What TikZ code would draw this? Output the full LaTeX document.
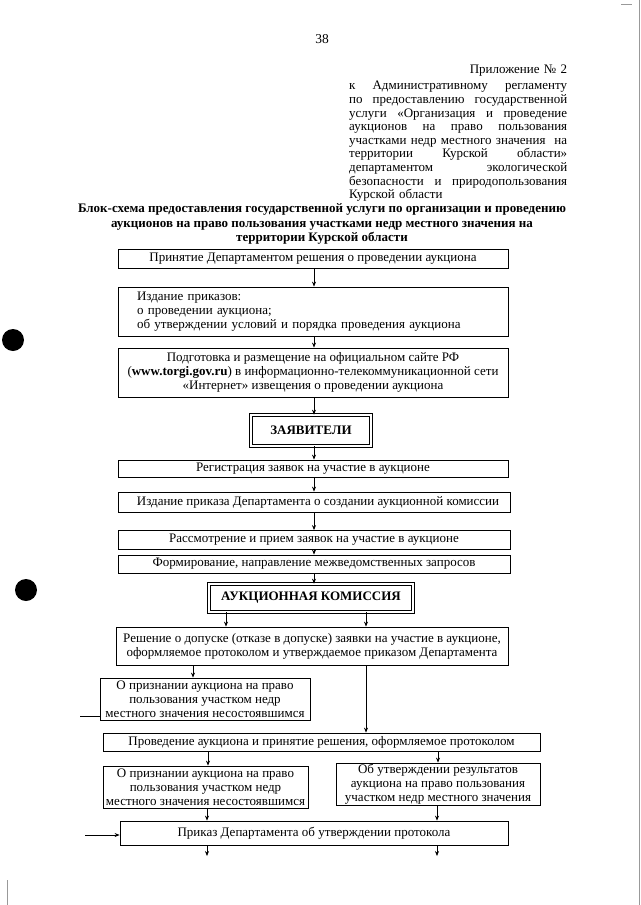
\documentclass[tikz,border=0pt]{standalone}
\usepackage{fontspec}
\setmainfont{Liberation Serif}
\usetikzlibrary{arrows.meta, positioning}
\newcommand{\jl}[1]{\leavevmode\hbox to 218pt{#1}}
\tikzset{
  blk/.style={draw, line width=0.8pt, rectangle, align=center, inner sep=1pt, font=\fontsize{13}{13.8}\selectfont},
  dblk/.style={draw, double, line width=0.7pt, double distance=1.8pt, rectangle, align=center, inner sep=1pt, font=\fontsize{13}{13.8}\selectfont\bfseries},
  arr/.style={draw, line width=0.7pt, -{Stealth[length=5pt, width=4pt]}},
  line/.style={draw, line width=0.7pt},
  scan/.style={draw=black!40, line width=1pt}
}

\begin{document}
\begin{tikzpicture}[x=1pt, y=-1pt]
  \useasboundingbox (0,0) rectangle (640,905);

  % page head
  \node[font=\fontsize{13.5}{15}\selectfont] (pagenum) at (322,39) {38};
  \node[anchor=north west, inner sep=0pt, text width=218pt, align=left,
        font=\fontsize{13}{13.6}\selectfont] (prilozh) at (349,65)
    {\jl{\hfill Приложение № 2}\\[2.5pt]
     \jl{к\hfill Административному\hfill регламенту}\\
     \jl{по\hfill предоставлению\hfill государственной}\\
     \jl{услуги\hfill «Организация\hfill и\hfill проведение}\\
     \jl{аукционов\hfill на\hfill право\hfill пользования}\\
     \jl{участками недр местного значения\hfill на}\\
     \jl{территории\hfill Курской\hfill области»}\\
     \jl{департаментом\hfill экологической}\\
     \jl{безопасности\hfill и\hfill природопользования}\\
     Курской области};
  \node[align=center, font=\fontsize{13}{14.5}\selectfont\bfseries] (title) at (322,224)
    {Блок-схема предоставления государственной услуги по организации и проведению\\
     аукционов на право пользования участками недр местного значения на\\
     территории Курской области};

  % blocks
  \node[blk, minimum width=390pt, minimum height=19pt] (b1) at (313,258.5)
    {Принятие Департаментом решения о проведении аукциона};
  \node[blk, minimum width=390pt, minimum height=49pt, text width=352pt, inner xsep=19pt, align=left] (b2) at (313,311.5)
    {Издание приказов:\\ о проведении аукциона;\\ об утверждении условий и порядка проведения аукциона};
  \node[blk, minimum width=390pt, minimum height=49pt] (b3) at (313,372.5)
    {Подготовка и размещение на официальном сайте РФ\\
     (\textbf{www.torgi.gov.ru}) в информационно-телекоммуникационной сети\\
     «Интернет» извещения о проведении аукциона};
  \node[dblk, minimum width=120pt, minimum height=31pt] (zayav) at (311,430.5) {ЗАЯВИТЕЛИ};
  \node[blk, minimum width=390pt, minimum height=17pt] (b4) at (313,468.5)
    {Регистрация заявок на участие в аукционе};
  \node[blk, minimum width=392pt, minimum height=20pt] (b5) at (314,502)
    {\hspace*{8pt}Издание приказа Департамента о создании аукционной комиссии};
  \node[blk, minimum width=392pt, minimum height=19pt] (b6) at (314,540)
    {Рассмотрение и прием заявок на участие в аукционе};
  \node[blk, minimum width=392pt, minimum height=18pt] (b7) at (314,564)
    {Формирование, направление межведомственных запросов};
  \node[dblk, minimum width=204pt, minimum height=28pt] (komis) at (311,598) {АУКЦИОННАЯ КОМИССИЯ};
  \node[blk, minimum width=392pt, minimum height=38pt] (b8) at (312,646)
    {Решение о допуске (отказе в допуске) заявки на участие в аукционе,\\
     оформляемое протоколом и утверждаемое приказом Департамента};
  \node[blk, minimum width=210pt, minimum height=42pt] (b9) at (205,699)
    {О признании аукциона на право\\ пользования участком недр\\ местного значения несостоявшимся};
  \node[blk, minimum width=437pt, minimum height=18pt] (b10) at (321.5,742)
    {Проведение аукциона и принятие решения, оформляемое протоколом};
  \node[blk, minimum width=205pt, minimum height=42pt] (b11a) at (205.5,787)
    {О признании аукциона на право\\ пользования участком недр\\ местного значения несостоявшимся};
  \node[blk, minimum width=204pt, minimum height=42pt] (b11b) at (438,784)
    {Об утверждении результатов\\ аукциона на право пользования\\ участком недр местного значения};
  \node[blk, minimum width=388pt, minimum height=24pt] (b12) at (314,833)
    {Приказ Департамента об утверждении протокола};

  % columns for the connectors
  \coordinate (mx) at (314,0);
  \coordinate (kl) at (226,0);
  \coordinate (kr) at (366,0);
  \coordinate (dl) at (193,0);
  \coordinate (dr) at (208,0);
  \coordinate (rr) at (438,0);
  \coordinate (free) at (80,716);
  \coordinate (into) at (85,835);
  \coordinate (outl) at (207,856);
  \coordinate (outr) at (437,856);

  % connectors
  \draw[arr] (b1.south -| mx) -- (b2.north -| mx);
  \draw[arr] (b2.south -| mx) -- (b3.north -| mx);
  \draw[arr] (b3.south -| mx) -- (zayav.north -| mx);
  \draw[arr] (zayav.south -| mx) -- (b4.north -| mx);
  \draw[arr] (b4.south -| mx) -- (b5.north -| mx);
  \draw[arr] (b5.south -| mx) -- (b6.north -| mx);
  \draw[arr] (b6.south -| mx) -- (b7.north -| mx);
  \draw[arr] (b7.south -| mx) -- (komis.north -| mx);
  \draw[arr] (komis.south -| kl) -- (b8.north -| kl);
  \draw[arr] (komis.south -| kr) -- (b8.north -| kr);
  \draw[arr] (b8.south -| dl) -- (b9.north -| dl);
  \draw[arr] (b8.south -| kr) -- (b10.north -| kr);
  \draw[line] (free -| b9.west) -- (free);
  \draw[arr] (b10.south -| dr) -- (b11a.north -| dr);
  \draw[arr] (b10.south -| rr) -- (b11b.north -| rr);
  \draw[arr] (b11a.south -| outl) -- (b12.north -| outl);
  \draw[arr] (b11b.south -| outr) -- (b12.north -| outr);
  \draw[arr] (into) -- (into -| b12.west);
  \draw[arr] (b12.south -| outl) -- (outl);
  \draw[arr] (b12.south -| outr) -- (outr);

  % marks of the scan
  \fill (13,340) circle (11);
  \fill (26,590) circle (11);
  \draw[scan] (639,0) -- (639,905);
  \draw[scan] (621,4) -- (632,4);
  \draw[scan] (7,880) -- (7,905);
\end{tikzpicture}
\end{document}
